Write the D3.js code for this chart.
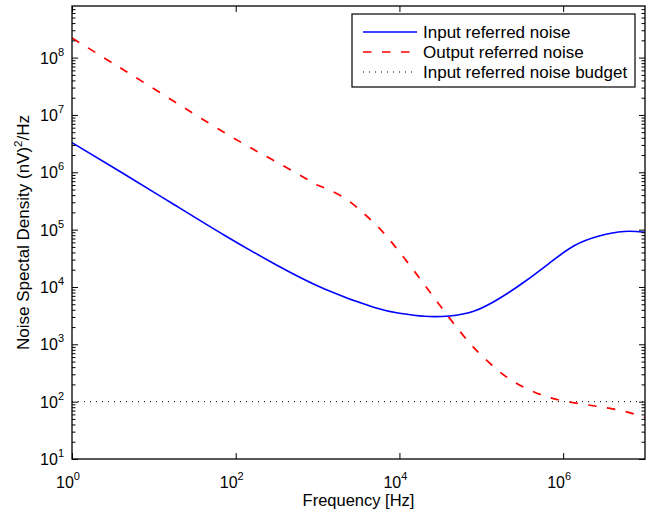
<!DOCTYPE html>
<html><head><meta charset="utf-8">
<script src="https://cdn.jsdelivr.net/npm/d3@7"></script>
<style>body{margin:0;background:#fff} text{font-family:"Liberation Sans",Arial,Helvetica,sans-serif;fill:#000}</style>
</head><body><svg id="c" width="656" height="515"></svg>
<script>
// ---- data ----
const inputFreq  = [1, 4.43, 18.0, 73.5, 299, 1217, 4950, 1e4, 2.02e4, 4.07e4, 8.22e4, 1.66e5, 3.34e5, 6.75e5, 1.36e6, 2.75e6, 5.54e6, 1e7];
const inputNoise = [3.3e6, 9.16e5, 2.69e5, 7.91e4, 2.52e4, 9.23e3, 4.39e3, 3.48e3, 3.08e3, 3.12e3, 3.81e3, 6.30e3, 1.22e4, 2.59e4, 5.22e4, 7.74e4, 9.29e4, 9.0e4];
const outputFreq  = [1, 8.94, 81.5, 316, 845, 1060, 2040, 3560, 5200, 7550, 1.1e4, 1.6e4, 2.32e4, 3.37e4, 4.91e4, 7.14e4, 1.04e5, 1.66e5, 2.65e5, 4.23e5, 7.41e5, 1.43e6, 2.75e6, 5.28e6, 1e7];
const outputNoise = [2.2e8, 3.16e7, 4.47e6, 1.51e6, 6.78e5, 5.77e5, 3.71e5, 1.99e5, 1.21e5, 6.70e4, 3.44e4, 1.71e4, 8.41e3, 4.13e3, 2.05e3, 1.07e3, 612, 336, 211, 151, 114, 94.4, 82.0, 69.3, 53.3];
const budgetFreq  = [1, 1e7];
const budgetNoise = [100, 100];
const xTickValues = [1, 1e2, 1e4, 1e6];
const xTickExp    = ["0", "2", "4", "6"];
const yTickValues = [1e1, 1e2, 1e3, 1e4, 1e5, 1e6, 1e7, 1e8];
const yTickExp    = ["1", "2", "3", "4", "5", "6", "7", "8"];
const seriesNames = ["Input referred noise", "Output referred noise", "Input referred noise budget"];
const xLabel = "Frequency [Hz]";

// ---- layout ----
const L = 72, R = 645, T = 6, B = 459;
const svg = d3.select("#c");
const x = d3.scaleLog().domain([1, 1e7]).range([L, R]);
const y = d3.scaleLog().domain([10, Math.pow(10, 8.9)]).range([B, T]);

svg.append("defs").append("clipPath").attr("id", "clip")
  .append("rect").attr("x", L).attr("y", T).attr("width", R - L).attr("height", B - T);

const line = d3.line().x(d => x(d[0])).y(d => y(d[1])).curve(d3.curveNatural);
const zip = (a, b) => a.map((v, i) => [v, b[i]]);

const g = svg.append("g").attr("clip-path", "url(#clip)");
g.append("path").datum(zip(budgetFreq, budgetNoise)).attr("d", line)
  .attr("fill", "none").attr("stroke", "#000").attr("stroke-width", 1).attr("stroke-dasharray", "1,5");
g.append("path").datum(zip(outputFreq, outputNoise)).attr("d", line)
  .attr("fill", "none").attr("stroke", "#ff0000").attr("stroke-width", 1.7).attr("stroke-dasharray", "8.5,10.5");
g.append("path").datum(zip(inputFreq, inputNoise)).attr("d", line)
  .attr("fill", "none").attr("stroke", "#0000ff").attr("stroke-width", 1.6);

// minor y ticks
const yMinor = [];
for (let e = 1; e <= 8; e++) for (let k = 2; k <= 9; k++) { const v = k * Math.pow(10, e); if (v <= Math.pow(10, 8.9)) yMinor.push(v); }

function styleAxis(sel) {
  sel.select(".domain").remove();
  sel.selectAll("line").attr("stroke", "#000").attr("stroke-width", 1);
  sel.selectAll("text").remove();
}
svg.append("g").attr("transform", `translate(0,${B})`).call(d3.axisBottom(x).tickValues(xTickValues).tickSize(-6)).call(styleAxis);
svg.append("g").attr("transform", `translate(0,${T})`).call(d3.axisTop(x).tickValues(xTickValues).tickSize(-6)).call(styleAxis);
svg.append("g").attr("transform", `translate(${L},0)`).call(d3.axisLeft(y).tickValues(yTickValues).tickSize(-6)).call(styleAxis);
svg.append("g").attr("transform", `translate(${R},0)`).call(d3.axisRight(y).tickValues(yTickValues).tickSize(-6)).call(styleAxis);
svg.append("g").attr("transform", `translate(${L},0)`).call(d3.axisLeft(y).tickValues(yMinor).tickSize(-3.5)).call(styleAxis);
svg.append("g").attr("transform", `translate(${R},0)`).call(d3.axisRight(y).tickValues(yMinor).tickSize(-3.5)).call(styleAxis);

// frame
svg.append("rect").attr("x", L).attr("y", T).attr("width", R - L).attr("height", B - T)
  .attr("fill", "none").attr("stroke", "#000").attr("stroke-width", 1.3);

// tick labels
xTickValues.forEach((v, i) => {
  const t = svg.append("text").attr("x", x(v) - 4).attr("y", B + 29).attr("text-anchor", "middle").attr("font-size", 16);
  t.append("tspan").text("10");
  t.append("tspan").attr("dy", -8).attr("font-size", 11).text(xTickExp[i]);
});
yTickValues.forEach((v, i) => {
  const t = svg.append("text").attr("x", L - 8).attr("y", y(v) + 6).attr("text-anchor", "end").attr("font-size", 16);
  t.append("tspan").text("10");
  t.append("tspan").attr("dy", -8).attr("font-size", 11).text(yTickExp[i]);
});

// axis labels
svg.append("text").attr("x", (L + R) / 2).attr("y", 506).attr("text-anchor", "middle").attr("font-size", 16.5).text(xLabel);
const yl = svg.append("text").attr("transform", `translate(29,${(T + B) / 2}) rotate(-90)`).attr("text-anchor", "middle").attr("font-size", 17);
yl.append("tspan").text("Noise Spectal Density (nV)");
yl.append("tspan").attr("dy", -7).attr("font-size", 11.5).text("2");
yl.append("tspan").attr("dy", 7).text("/Hz");

// legend
const lg = svg.append("g");
lg.append("rect").attr("x", 352).attr("y", 14).attr("width", 283).attr("height", 73)
  .attr("fill", "#fff").attr("stroke", "#000").attr("stroke-width", 1.2);
const styles = [["#0000ff", null, 1.6], ["#ff0000", "8.5,10.5", 1.7], ["#000", "1,5", 1]];
seriesNames.forEach((n, i) => {
  const yy = 32 + i * 20;
  const ln = lg.append("line").attr("x1", 363).attr("x2", 417).attr("y1", yy).attr("y2", yy)
    .attr("stroke", styles[i][0]).attr("stroke-width", styles[i][2]);
  if (styles[i][1]) ln.attr("stroke-dasharray", styles[i][1]);
  lg.append("text").attr("x", 423).attr("y", yy + 6).attr("font-size", 17).text(n);
});
</script></body></html>
